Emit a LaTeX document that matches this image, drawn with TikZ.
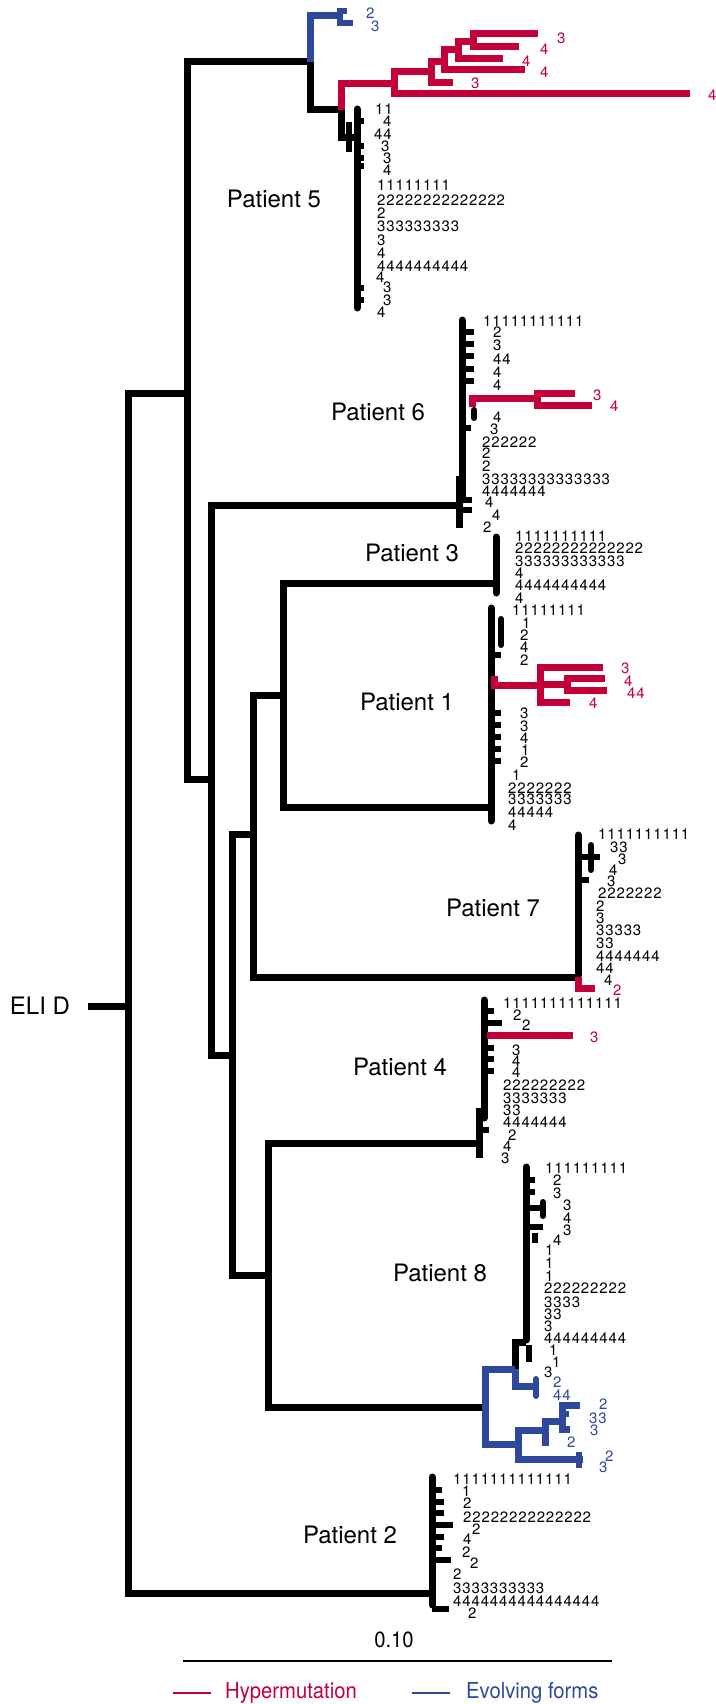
\documentclass[tikz,border=0pt]{standalone}
\usepackage{fontspec}
\setmainfont{TeX Gyre Heros}
\newfontfamily\cifras[LetterSpace=5.7]{TeX Gyre Heros}
\newfontfamily\estrecha[FakeStretch=0.92]{TeX Gyre Heros}
\definecolor{hiper}{HTML}{C4003A}
\definecolor{evol}{HTML}{2E489B}

\begin{document}
\begin{tikzpicture}[x=1pt, y=-1pt,
    rama/.style={line width=7pt},
    tallo/.style={line width=6pt},
    punta/.style={line width=7pt, line cap=round},
    hoja/.style={anchor=west, inner sep=0pt, font=\cifras\fontsize{15}{15}\selectfont},
    paciente/.style={inner sep=0pt, font=\fontsize{24}{24}\selectfont},
    leyenda/.style={anchor=west, inner sep=0pt, font=\estrecha\fontsize{22}{22}\selectfont}]
  \useasboundingbox (0,0) rectangle (715,1704);

  \coordinate (eli0) at (88,1006);
  \coordinate (raiz) at (128,1006);
  \coordinate (n1) at (187,393);
  \coordinate (n2) at (211,779);
  \coordinate (n3) at (232,1055);
  \coordinate (n4) at (253,834);
  \coordinate (n5) at (283,695);
  \coordinate (n6) at (268,1275);
  \coordinate (p5) at (310,62);
  \coordinate (p6) at (458,505);
  \coordinate (p3) at (496,583);
  \coordinate (p1) at (491,807);
  \coordinate (p7) at (578,977);
  \coordinate (p4) at (478,1143);
  \coordinate (p8) at (485,1407);
  \coordinate (p2) at (432,1593);

  \node[paciente] (eli) at (40,1006) {ELI D};
  \draw[rama] (eli0) -- (raiz);
  \foreach \a/\b in {raiz/n1, raiz/p2, n1/p5, n1/n2, n2/p6, n2/n3, n3/n4, n3/n6,
                     n4/n5, n4/p7, n5/p3, n5/p1, n6/p4, n6/p8}
    \draw[rama] (\a) |- (\b);

  % Patient 5
  \node[paciente] (pac5) at (274,199) {Patient 5};
  \coordinate (p5n) at (341,110);
  \coordinate (p5a) at (340,16);
  \draw[rama, evol] (p5) |- (p5a);
  \draw[tallo, evol] (340,8) -- (340,26);
  \draw[tallo, evol] (340,11) -- (347,11);
  \draw[tallo, evol] (340,23) -- (353,23);
  \draw[rama] (p5) |- (p5n);
  \draw[rama] (p5n) |- (357,138);
  \draw[punta] (357,109) -- (357,308);
  \draw[tallo] (349,122) -- (349,152);
  \foreach \y in {121,146,158,166,288,300}
    \draw[tallo] (357,\y) -- (364,\y);
  \coordinate (r1) at (394,84);
  \coordinate (r2) at (431,72);
  \coordinate (r3) at (444,62);
  \coordinate (r4) at (458,50);
  \coordinate (r5) at (473,42);
  \draw[rama, hiper] (p5n) |- (r1);
  \foreach \a/\b in {r1/r2, r2/r3, r3/r4, r4/r5}
    \draw[rama, hiper] (\a) |- (\b);
  \foreach \a/\x/\y in {r1/690/94, r2/453/83, r3/525/70, r4/503/59, r5/538/34, r5/519/47}
    \draw[rama, hiper] (\a) |- (\x,\y);
  \foreach \x/\y/\t [count=\i] in {375/109/11, 383/121/4, 374/134/44, 381/146/3, 383/158/3,
      383/170/4, 377/185/11111111, 377/200/22222222222222, 377/213/2, 377/226/333333333,
      377/240/3, 377/253/4, 377/266/4444444444, 376/277/4, 383/287/3, 383/300/3, 377/312/4}
    \node[hoja] (p5h\i) at (\x,\y) {\t};
  \foreach \x/\y/\t [count=\i] in {557/38/3, 540/49/4, 522/61/4, 540/72/4, 471/83/3, 708/95/4}
    \node[hoja, text=hiper] (p5r\i) at (\x,\y) {\t};
  \foreach \x/\y/\t [count=\i] in {366/13/2, 371/26/3}
    \node[hoja, text=evol] (p5e\i) at (\x,\y) {\t};

  % Patient 6
  \node[paciente] (pac6) at (378,412) {Patient 6};
  \draw[punta] (462,320) -- (462,500);
  \draw[rama] (459,476) -- (459,528);
  \foreach \y in {332,344,356,369,381}
    \draw[tallo] (462,\y) -- (474,\y);
  \draw[tallo] (462,428) -- (471,428);
  \draw[tallo] (462,500) -- (472,500);
  \draw[tallo] (462,510) -- (472,510);
  \draw[tallo, line cap=round] (474,410) -- (474,418);
  \coordinate (p6r) at (472,407);
  \coordinate (t1) at (537,398);
  \draw[rama, hiper] (p6r) |- (t1);
  \draw[rama, hiper] (t1) |- (575,393);
  \draw[rama, hiper] (t1) |- (592,405);
  \foreach \x/\y/\t [count=\i] in {483/321/11111111111, 493/332/2, 493/345/3, 493/359/44,
      493/372/4, 493/385/4, 493/417/4, 490/429/3, 482/442/222222, 482/453/2, 482/466/2,
      482/479/33333333333333, 482/491/4444444, 485/502/4, 492/515/4, 483/527/2}
    \node[hoja] (p6h\i) at (\x,\y) {\t};
  \foreach \x/\y/\t [count=\i] in {593/395/3, 610/406/4}
    \node[hoja, text=hiper] (p6r\i) at (\x,\y) {\t};

  % Patient 3
  \node[paciente] (pac3) at (412,553) {Patient 3};
  \draw[punta] (496,537) -- (496,593);
  \foreach \x/\y/\t [count=\i] in {515/536/1111111111, 515/548/22222222222222,
      515/561/333333333333, 515/573/4, 515/585/4444444444, 515/598/4}
    \node[hoja] (p3h\i) at (\x,\y) {\t};

  % Patient 1
  \node[paciente] (pac1) at (407,702) {Patient 1};
  \draw[punta] (491,608) -- (491,821);
  \draw[tallo, line cap=round] (501,619) -- (501,645);
  \draw[tallo] (491,655) -- (501,655);
  \foreach \y in {713,725,737,749,761}
    \draw[tallo] (491,\y) -- (501,\y);
  \coordinate (p1r) at (494,676);
  \coordinate (s1) at (540,685);
  \coordinate (s2) at (567,684);
  \draw[rama, hiper] (p1r) |- (s1);
  \draw[rama, hiper] (s1) |- (s2);
  \draw[rama, hiper] (s1) |- (603,667);
  \draw[rama, hiper] (s1) |- (570,702);
  \draw[rama, hiper] (s2) |- (605,678);
  \draw[rama, hiper] (s2) |- (607,690);
  \foreach \x/\y/\t [count=\i] in {512/610/11111111, 522/623/1, 520/635/2, 520/647/4,
      520/660/2, 520/713/3, 520/726/3, 520/738/4, 521/750/1, 520/762/2, 512/775/1,
      508/788/2222222, 508/799/3333333, 508/812/44444, 508/825/4}
    \node[hoja] (p1h\i) at (\x,\y) {\t};
  \foreach \x/\y/\t [count=\i] in {621/668/3, 624/681/4, 627/693/44, 589/703/4}
    \node[hoja, text=hiper] (p1r\i) at (\x,\y) {\t};

  % Patient 7
  \node[paciente] (pac7) at (493,908) {Patient 7};
  \draw[punta] (578,835) -- (578,975);
  \draw[tallo, line cap=round] (591,845) -- (591,870);
  \draw[tallo] (578,857) -- (600,857);
  \draw[tallo] (578,880) -- (589,880);
  \coordinate (p7r) at (595,988);
  \draw[rama, hiper] (p7) |- (p7r);
  \foreach \x/\y/\t [count=\i] in {598/834/1111111111, 610/847/33, 618/859/3, 609/870/4,
      607/881/3, 598/893/2222222, 596/906/2, 596/918/3, 596/930/33333, 596/943/33,
      596/956/4444444, 596/968/44, 604/980/4}
    \node[hoja] (p7h\i) at (\x,\y) {\t};
  \node[hoja, text=hiper] (p7r1) at (613,990) {2};

  % Patient 4
  \node[paciente] (pac4) at (400,1067) {Patient 4};
  \draw[punta] (484,1000) -- (484,1118);
  \draw[rama] (479,1108) -- (479,1158);
  \foreach \y/\l in {1011/494, 1023/502, 1048/494, 1059/494, 1071/494, 1130/489, 1155/483}
    \draw[tallo] (482,\y) -- (\l,\y);
  \coordinate (p4r) at (487,1035);
  \coordinate (p4s) at (573,1035);
  \draw[rama, hiper] (p4r) -- (p4s);
  \foreach \x/\y/\t [count=\i] in {503/1003/1111111111111, 513/1015/2, 522/1025/2,
      512/1050/3, 512/1061/4, 512/1072/4, 503/1085/222222222, 503/1098/3333333,
      503/1110/33, 503/1122/4444444, 508/1135/2, 503/1146/4, 501/1158/3}
    \node[hoja] (p4h\i) at (\x,\y) {\t};
  \node[hoja, text=hiper] (p4r1) at (590,1037) {3};

  % Patient 8
  \node[paciente] (pac8) at (440,1273) {Patient 8};
  \coordinate (p8a) at (515,1369);
  \coordinate (p8b) at (518,1444);
  \coordinate (q1) at (545,1430);
  \coordinate (q2) at (562,1421);
  \draw[punta] (526,1167) -- (526,1340);
  \draw[rama] (p8a) |- (526,1342);
  \foreach \y/\l in {1180/535, 1192/535, 1208/543, 1227/543}
    \draw[tallo] (526,\y) -- (\l,\y);
  \draw[tallo, line cap=round] (543,1202) -- (543,1216);
  \draw[tallo] (535,1233) -- (535,1243);
  \draw[tallo] (529,1345) -- (529,1362);
  \draw[rama, evol] (p8) |- (p8a);
  \draw[rama, evol] (p8a) |- (536,1386);
  \draw[tallo, evol, line cap=round] (536,1379) -- (536,1396);
  \draw[rama, evol] (p8) |- (p8b);
  \draw[rama, evol] (p8b) |- (q1);
  \draw[rama, evol] (p8b) |- (583,1459);
  \draw[tallo, evol] (579,1452) -- (579,1468);
  \draw[rama, evol] (q1) |- (q2);
  \draw[rama, evol] (q1) |- (549,1442);
  \draw[rama, evol] (q2) |- (580,1405);
  \draw[rama, evol] (q2) |- (570,1429);
  \draw[tallo, evol] (562,1414) -- (569,1414);
  \foreach \x/\y/\t [count=\i] in {545/1168/111111111, 553/1180/2, 553/1193/3, 563/1205/3,
      563/1218/4, 563/1230/3, 553/1240/4, 545/1250/1, 545/1263/1, 545/1276/1,
      544/1288/222222222, 544/1302/3333, 544/1314/33, 544/1326/3, 544/1338/444444444,
      549/1350/1, 552/1362/1, 544/1372/3}
    \node[hoja] (p8h\i) at (\x,\y) {\t};
  \foreach \x/\y/\t [count=\i] in {553/1382/2, 553/1395/44, 599/1404/2, 589/1418/33,
      590/1430/3, 567/1442/2, 605/1456/2, 599/1467/3}
    \node[hoja, text=evol] (p8e\i) at (\x,\y) {\t};

  % Patient 2
  \node[paciente] (pac2) at (350,1535) {Patient 2};
  \draw[punta] (432,1477) -- (432,1605);
  \foreach \y/\l in {1490/442, 1502/444, 1513/444, 1525/453, 1537/444, 1548/442, 1560/451, 1609/449}
    \draw[tallo] (432,\y) -- (\l,\y);
  \foreach \x/\y/\t [count=\i] in {453/1479/1111111111111, 462/1491/1, 463/1503/2,
      463/1517/22222222222222, 472/1529/2, 463/1539/4, 462/1552/2, 470/1563/2, 453/1574/2,
      453/1588/3333333333, 453/1601/4444444444444444, 468/1613/2}
    \node[hoja] (p2h\i) at (\x,\y) {\t};

  % escala y leyenda
  \coordinate (esc0) at (183,1661);
  \coordinate (esc1) at (612,1661);
  \draw[line width=2.5pt] (esc0) -- (esc1);
  \node[leyenda, anchor=center] (esc) at (394,1640) {0.10};
  \coordinate (ley0) at (173,1693);
  \coordinate (ley1) at (211,1693);
  \coordinate (ley2) at (412,1693);
  \coordinate (ley3) at (450,1693);
  \draw[line width=2.5pt, hiper] (ley0) -- (ley1);
  \draw[line width=2.5pt, evol] (ley2) -- (ley3);
  \node[leyenda, text=hiper] (hip) at (225,1693) {Hypermutation};
  \node[leyenda, text=evol] (evo) at (466,1693) {Evolving forms};
\end{tikzpicture}
\end{document}
